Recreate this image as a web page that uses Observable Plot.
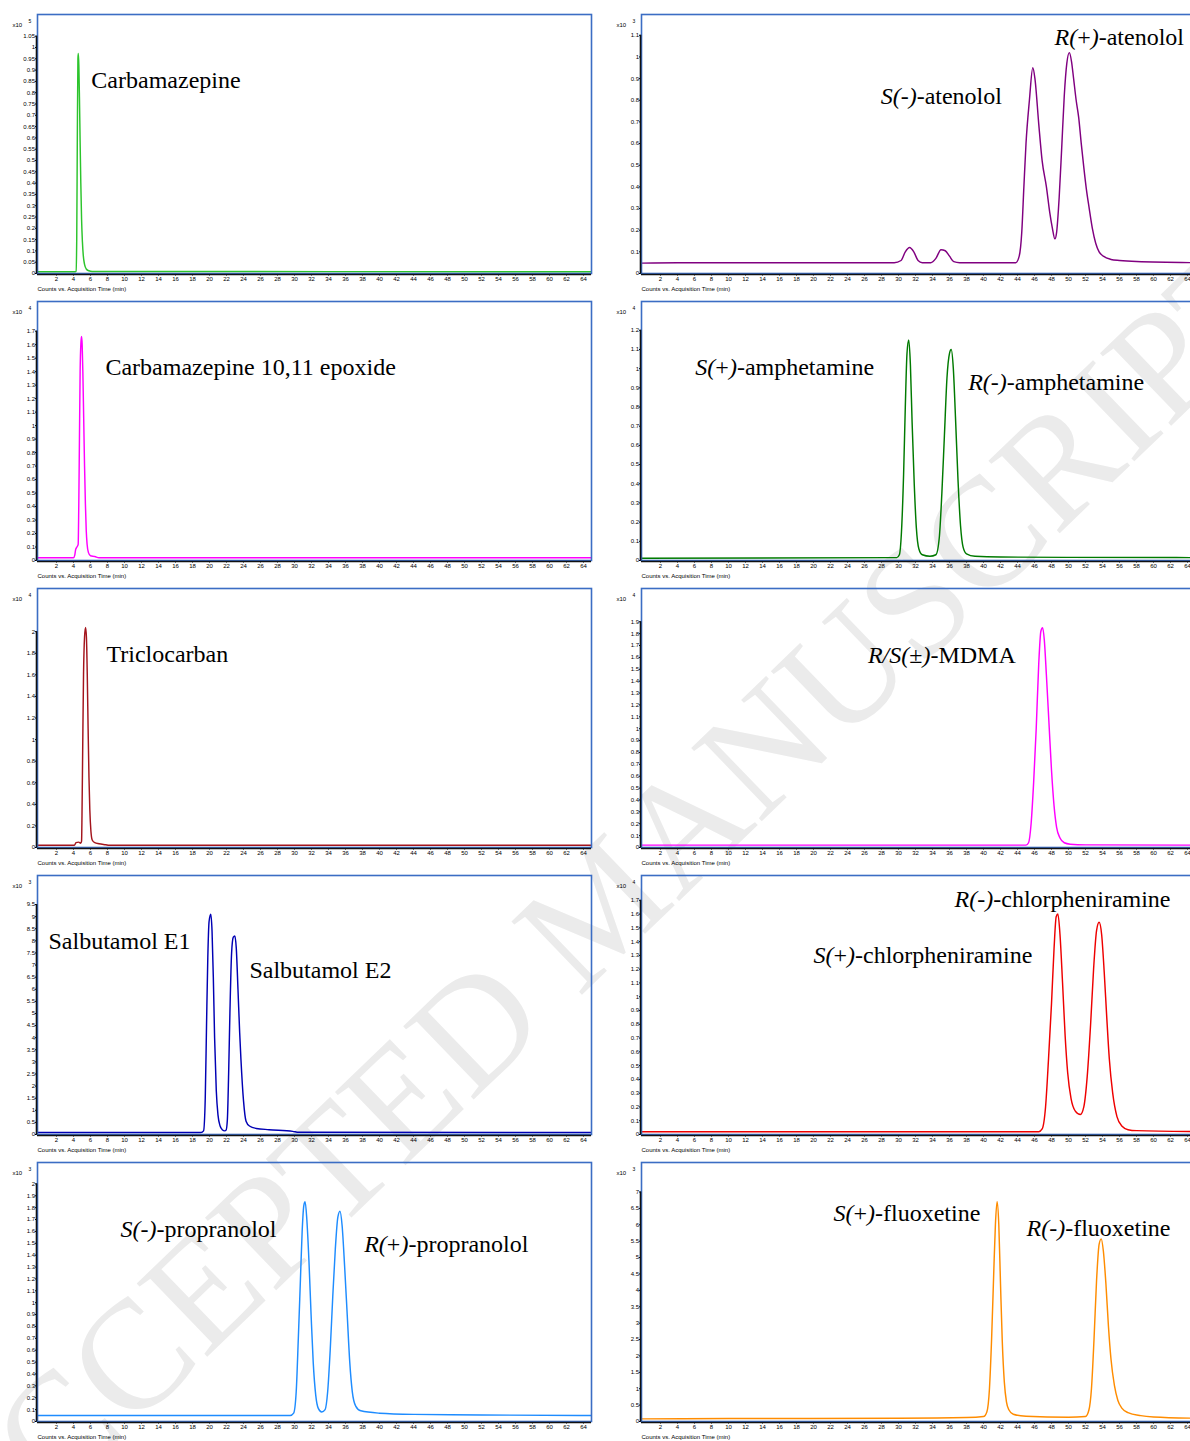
<!DOCTYPE html>
<html><head><meta charset="utf-8">
<script src="https://cdn.jsdelivr.net/npm/d3@7"></script>
<script src="https://cdn.jsdelivr.net/npm/@observablehq/plot@0.6"></script>
<style>
body{margin:0;background:#fff;}
#page{position:relative;width:1190px;height:1441px;overflow:hidden;background:#fff;}
#wm{position:absolute;left:0;top:0;z-index:0;}
.panel{position:absolute;z-index:1;}
</style></head><body><div id="page"></div>
<script>
// ---------- data (time in min, counts in the panel's x10^n units) ----------
const xTicks = [2,4,6,8,10,12,14,16,18,20,22,24,26,28,30,32,34,36,38,40,42,44,46,48,50,52,54,56,58,60,62,64];

const carbamazepine = [[-0.2,0.008],[4.2,0.008],[4.3,0.01],[4.38,0.15],[4.45,0.6],[4.52,0.95],[4.57,0.973],[4.63,0.92],[4.7,0.78],[4.78,0.58],[4.86,0.4],[4.95,0.24],[5.05,0.14],[5.15,0.08],[5.3,0.04],[5.5,0.02],[5.8,0.012],[6.2,0.009],[64.9,0.008]];
const epoxide = [[-0.2,0.02],[4.0,0.02],[4.15,0.04],[4.25,0.08],[4.4,0.1],[4.55,0.12],[4.62,0.4],[4.7,0.9],[4.78,1.4],[4.88,1.62],[4.95,1.66],[5.02,1.6],[5.1,1.4],[5.2,1.05],[5.3,0.7],[5.4,0.42],[5.5,0.22],[5.6,0.12],[5.75,0.06],[6.0,0.035],[6.5,0.03],[7.0,0.02],[64.9,0.02]];
const triclocarban = [[-0.2,0.02],[4.1,0.02],[4.3,0.045],[4.6,0.05],[4.85,0.04],[4.95,0.06],[5.0,0.3],[5.08,0.9],[5.18,1.6],[5.3,1.95],[5.42,2.04],[5.52,1.95],[5.62,1.6],[5.72,1.1],[5.82,0.65],[5.92,0.35],[6.05,0.15],[6.2,0.07],[6.5,0.045],[7.0,0.035],[7.8,0.025],[8.2,0.02],[64.9,0.02]];
const salbutamol = [[-0.2,0.08],[19.0,0.08],[19.3,0.15],[19.5,1.5],[19.65,4.5],[19.8,7.3],[19.95,8.8],[20.15,9.1],[20.3,8.4],[20.45,6.5],[20.6,4.0],[20.8,1.8],[21.0,0.8],[21.25,0.35],[21.5,0.2],[21.8,0.15],[21.95,0.18],[22.1,0.6],[22.25,2.5],[22.4,5.0],[22.6,7.5],[22.8,8.15],[22.98,8.2],[23.15,7.7],[23.35,6.0],[23.55,4.2],[23.7,3.1],[24.0,1.4],[24.3,0.55],[24.7,0.35],[25.5,0.25],[27.0,0.2],[29.8,0.13],[30.5,0.09],[64.9,0.08]];
const propranolol = [[-0.2,0.05],[29.5,0.05],[29.9,0.07],[30.2,0.25],[30.45,0.7],[30.7,1.2],[30.9,1.6],[31.1,1.82],[31.25,1.85],[31.45,1.7],[31.7,1.35],[31.95,0.9],[32.2,0.5],[32.5,0.22],[32.8,0.11],[33.2,0.08],[33.6,0.1],[33.9,0.25],[34.2,0.6],[34.5,1.05],[34.8,1.45],[35.1,1.72],[35.35,1.77],[35.6,1.65],[35.9,1.3],[36.2,0.9],[36.5,0.5],[36.8,0.25],[37.2,0.13],[37.8,0.09],[40.0,0.07],[44.0,0.06],[52.0,0.055],[64.9,0.05]];
const atenolol = [[-0.2,0.048],[4,0.05],[29.5,0.05],[30.3,0.06],[30.8,0.1],[31.3,0.12],[31.8,0.1],[32.3,0.06],[32.8,0.05],[33.8,0.05],[34.4,0.07],[35.0,0.11],[35.5,0.105],[36.0,0.08],[36.5,0.055],[37.2,0.05],[43.8,0.05],[44.2,0.08],[44.5,0.19],[44.75,0.4],[45.0,0.6],[45.4,0.8],[45.8,0.95],[46.05,0.9],[46.5,0.69],[46.9,0.52],[47.4,0.4],[47.8,0.28],[48.1,0.21],[48.4,0.16],[48.6,0.19],[48.9,0.35],[49.2,0.58],[49.5,0.82],[49.8,0.97],[50.1,1.02],[50.35,0.98],[50.6,0.9],[50.9,0.8],[51.2,0.72],[51.5,0.6],[51.8,0.49],[52.1,0.39],[52.4,0.31],[52.8,0.21],[53.2,0.14],[53.6,0.1],[54.1,0.08],[55,0.065],[56,0.06],[58,0.055],[64.9,0.05]];
const amphetamine = [[-0.2,0.012],[29.8,0.015],[30.1,0.03],[30.35,0.15],[30.6,0.45],[30.8,0.8],[31.0,1.08],[31.2,1.15],[31.4,1.02],[31.6,0.72],[31.85,0.4],[32.1,0.17],[32.4,0.06],[32.8,0.03],[33.7,0.022],[34.4,0.03],[34.8,0.12],[35.1,0.35],[35.4,0.65],[35.7,0.95],[36.0,1.08],[36.2,1.1],[36.45,1.0],[36.7,0.75],[37.0,0.42],[37.3,0.18],[37.6,0.07],[38.0,0.035],[39.0,0.022],[42.0,0.018],[64.9,0.015]];
const mdma = [[-0.2,0.02],[45.0,0.02],[45.3,0.04],[45.6,0.2],[45.9,0.55],[46.2,1.0],[46.5,1.55],[46.75,1.82],[46.95,1.85],[47.15,1.75],[47.4,1.45],[47.7,1.05],[48.0,0.65],[48.3,0.35],[48.6,0.17],[49.0,0.08],[49.5,0.04],[50.2,0.028],[52,0.022],[64.9,0.02]];
const chlorpheniramine = [[-0.2,0.02],[46.5,0.02],[46.9,0.04],[47.3,0.2],[47.65,0.55],[48.0,0.95],[48.3,1.35],[48.55,1.58],[48.75,1.6],[49.0,1.45],[49.3,1.1],[49.6,0.72],[49.9,0.45],[50.3,0.26],[50.8,0.17],[51.4,0.145],[51.8,0.2],[52.2,0.42],[52.6,0.8],[52.95,1.2],[53.3,1.48],[53.6,1.54],[53.9,1.45],[54.2,1.18],[54.5,0.85],[54.8,0.55],[55.2,0.3],[55.7,0.13],[56.3,0.06],[57,0.035],[58,0.028],[64.9,0.022]];
const fluoxetine = [[-0.2,0.08],[10,0.09],[30,0.1],[38,0.12],[40,0.15],[40.4,0.3],[40.7,1.0],[40.95,2.5],[41.2,4.5],[41.4,6.0],[41.6,6.7],[41.8,6.0],[42.0,4.2],[42.2,2.5],[42.45,1.2],[42.7,0.6],[43.0,0.35],[43.5,0.22],[45,0.16],[50,0.13],[52,0.15],[52.4,0.35],[52.7,1.0],[53.0,2.5],[53.3,4.3],[53.6,5.4],[53.85,5.57],[54.1,5.2],[54.4,4.2],[54.7,2.9],[55.0,1.9],[55.4,1.1],[55.8,0.65],[56.3,0.4],[57,0.27],[58.5,0.18],[60,0.14],[64.9,0.1]];

// y tick lists
const ticksCarb = d3.range(0, 22).map(i => +(i * 0.05).toFixed(2));   // 0 … 1.05
const ticksEpox = d3.range(0, 18).map(i => +(i * 0.1).toFixed(1));    // 0 … 1.7
const ticksTric = [0,0.2,0.4,0.6,0.8,1,1.2,1.4,1.6,1.8,2];
const ticksSalb = d3.range(0, 20).map(i => i * 0.5);                  // 0 … 9.5
const ticksProp = d3.range(0, 21).map(i => +(i * 0.1).toFixed(1));    // 0 … 2
const ticksAten = d3.range(0, 12).map(i => +(i * 0.1).toFixed(1));    // 0 … 1.1
const ticksAmph = d3.range(0, 13).map(i => +(i * 0.1).toFixed(1));    // 0 … 1.2
const ticksMdma = d3.range(0, 20).map(i => +(i * 0.1).toFixed(1));    // 0 … 1.9
const ticksChlo = d3.range(0, 18).map(i => +(i * 0.1).toFixed(1));    // 0 … 1.7
const ticksFluo = d3.range(0, 15).map(i => i * 0.5);                  // 0 … 7

// panel labels (anchor in data units)
const labCarb = [{t:6.1, v:0.854, text:"Carbamazepine"}];
const labEpox = [{t:7.76, v:1.43, text:"Carbamazepine 10,11 epoxide"}];
const labTric = [{t:7.88, v:1.79, text:"Triclocarban"}];
const labSalb = [{t:1.06, v:7.98, text:"Salbutamol E1"},{t:24.7, v:6.78, text:"Salbutamol E2"}];
const labProp = [{t:9.53, v:1.62, text:"S(-)-propranolol"},{t:38.2, v:1.49, text:"R(+)-propranolol"}];
const labAten = [{t:48.35, v:1.09, text:"R(+)-atenolol"},{t:27.9, v:0.82, text:"S(-)-atenolol"}];
const labAmph = [{t:6.1, v:1.006, text:"S(+)-amphetamine"},{t:38.2, v:0.93, text:"R(-)-amphetamine"}];
const labMdma = [{t:26.4, v:1.62, text:"R/S(±)-MDMA"}];
const labChlo = [{t:36.6, v:1.71, text:"R(-)-chlorpheniramine"},{t:20.0, v:1.30, text:"S(+)-chlorpheniramine"}];
const labFluo = [{t:22.35, v:6.34, text:"S(+)-fluoxetine"},{t:45.06, v:5.88, text:"R(-)-fluoxetine"}];

// ---------- panel definitions ----------
const panels = [
  {col:0,row:0,data:carbamazepine,color:"#2cc42c",exp:5,max:1.146,ticks:ticksCarb,labels:labCarb},
  {col:0,row:1,data:epoxide,color:"#ff00ff",exp:4,max:1.92,ticks:ticksEpox,labels:labEpox},
  {col:0,row:2,data:triclocarban,color:"#a3141c",exp:4,max:2.40,ticks:ticksTric,labels:labTric},
  {col:0,row:3,data:salbutamol,color:"#0000b4",exp:3,max:10.7,ticks:ticksSalb,labels:labSalb},
  {col:0,row:4,data:propranolol,color:"#1e8cff",exp:3,max:2.18,ticks:ticksProp,labels:labProp},
  {col:1,row:0,data:atenolol,color:"#800080",exp:3,max:1.196,ticks:ticksAten,labels:labAten},
  {col:1,row:1,data:amphetamine,color:"#007a00",exp:4,max:1.35,ticks:ticksAmph,labels:labAmph},
  {col:1,row:2,data:mdma,color:"#ff00ff",exp:4,max:2.18,ticks:ticksMdma,labels:labMdma},
  {col:1,row:3,data:chlorpheniramine,color:"#ee0000",exp:4,max:1.88,ticks:ticksChlo,labels:labChlo},
  {col:1,row:4,data:fluoxetine,color:"#ff8c00",exp:3,max:7.9,ticks:ticksFluo,labels:labFluo}
];

const xDomain = [-0.235, 64.94];
const page = document.getElementById("page");

// watermark (behind the panels)
const wm = d3.select(page).append("svg").attr("id","wm").attr("width",1190).attr("height",1441);
wm.append("text")
  .attr("transform","translate(600,905) rotate(-44)")
  .attr("text-anchor","middle").attr("dominant-baseline","central")
  .attr("font-family","'Liberation Serif','Times New Roman',serif")
  .attr("font-size",155).attr("fill","#ebebeb")
  .text("ACCEPTED MANUSCRIPT");

const fmt = d => String(+d.toFixed(2));

function italicize(svg) {
  d3.select(svg).selectAll("text").each(function() {
    const s = this.textContent;
    const m = s.match(/^([RS](?:\/S)?\()([-+±])(\))(.*)$/);
    if (!m) return;
    const t = d3.select(this);
    t.text(null);
    t.append("tspan").attr("font-style","italic").text(m[1]);
    t.append("tspan").text(m[2]);
    t.append("tspan").attr("font-style","italic").text(m[3]);
    t.append("tspan").text(m[4]);
  });
}

for (const p of panels) {
  const rows = p.data.map(([t, v]) => ({t, v}));
  const plot = Plot.plot({
    width: 604, height: 287,
    marginLeft: 37, marginRight: 13, marginTop: 14, marginBottom: 14,
    style: {background: "transparent", overflow: "visible", fontFamily: "Arial, 'Liberation Sans', sans-serif", fontSize: "6px", color: "#000"},
    x: {domain: xDomain, label: null},
    y: {domain: [0, p.max], label: null},
    marks: [
      Plot.axisX({ticks: xTicks, tickSize: 2.5, tickPadding: 1, fontSize: 6, label: null, tickFormat: d => d}),
      Plot.axisY({ticks: p.ticks, tickSize: 2, tickPadding: 0.5, fontSize: 6, label: null, tickFormat: fmt}),
      Plot.line(rows, {x: "t", y: "v", stroke: p.color, strokeWidth: 1.45, curve: "monotone-x"}),
      Plot.frame({stroke: "#3b6dc4", strokeWidth: 1.6}),
      Plot.ruleY([0], {stroke: "#111", strokeWidth: 1.6, dy: 1}),
      Plot.ruleX([xDomain[0]], {y1: 0, y2: p.ticks[p.ticks.length - 1], stroke: "#111", strokeWidth: 1.6, dx: -1}),
      Plot.text(p.labels, {x: "t", y: "v", text: "text", textAnchor: "start", lineAnchor: "middle",
        fontFamily: "'Liberation Serif','Times New Roman',serif", fontSize: 24, fill: "#000"}),
      Plot.text(["x10"], {frameAnchor: "top-left", text: d => d, dx: -25, dy: 8, textAnchor: "start", fontSize: 6, fill: "#000"}),
      Plot.text([String(p.exp)], {frameAnchor: "top-left", text: d => d, dx: -9, dy: 5, textAnchor: "start", fontSize: 5, fill: "#000"}),
      Plot.text(["Counts vs. Acquisition Time (min)"], {frameAnchor: "bottom-left", text: d => d, dy: 17, textAnchor: "start", fontSize: 6, fill: "#000"})
    ]
  });
  plot.classList.add("panel");
  plot.style.left = (p.col * 604) + "px";
  plot.style.top = (p.row * 287) + "px";
  plot.style.position = "absolute";
  italicize(plot);
  page.appendChild(plot);
}
</script>
</body></html>
